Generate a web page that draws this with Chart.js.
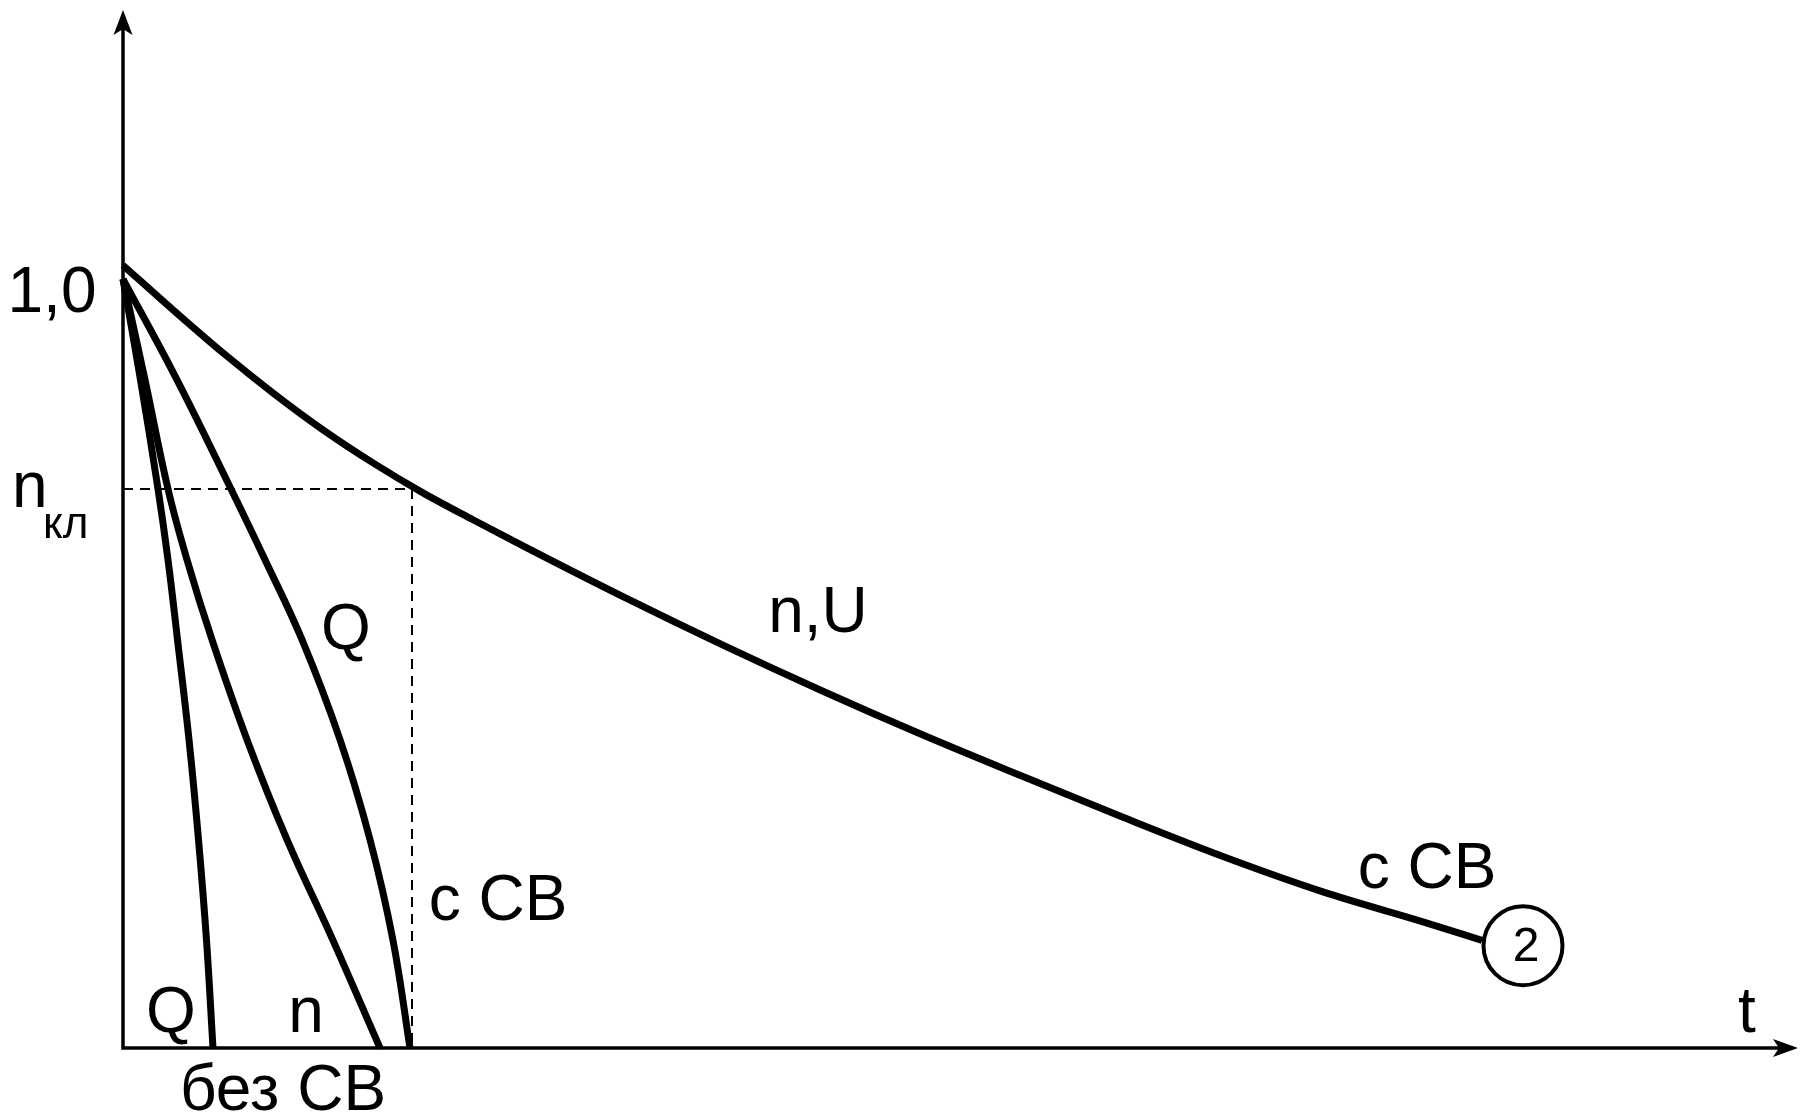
<!DOCTYPE html>
<html>
<head>
<meta charset="utf-8">
<script src="https://cdn.jsdelivr.net/npm/chart.js@4.4.1/dist/chart.umd.min.js"></script>
<style>
  html, body { margin: 0; padding: 0; background: #fff; }
  canvas { display: block; }
</style>
</head>
<body>
<canvas id="chart" width="1800" height="1115"></canvas>
<script>
// Relative quantities vs time (t in arbitrary units, values as fraction of 1,0)

// n,U with SV (slow decay, ends at marker 2)
const nuT = [0, 0.5, 1.0, 1.5, 2.0, 2.5, 3.0, 3.5, 4.0, 5, 6, 7, 8, 9, 10, 11, 12, 13, 13.59];
const nuV = [1.018, 0.960, 0.904, 0.852, 0.804, 0.761, 0.722, 0.687, 0.653, 0.587, 0.524, 0.464, 0.407, 0.353, 0.300, 0.249, 0.203, 0.164, 0.140];

// shared value rows for the three fast curves
const fastV = [1.0, 0.869, 0.727, 0.635, 0.531, 0.401, 0.271, 0.140, 0];

// Q without SV
const qNoT = [0, 0.175, 0.35, 0.45, 0.545, 0.66, 0.755, 0.835, 0.90];

// n without SV
const nNoT = [0, 0.22, 0.45, 0.64, 0.89, 1.24, 1.64, 2.10, 2.57];

// Q with SV
const qWithT = [0, 0.54, 1.08, 1.42, 1.79, 2.17, 2.47, 2.70, 2.87];

// critical level n_кл and the time it is reached
const nKl = 0.727;
const tKl = 2.89;

// circled marker "2" at the end of the n,U curve
const markerT = 14.0;
const markerV = 0.133;

// text labels (anchored in data units)
const labels = [
    { text: '1,0', t: -0.71, v: 0.957, font: 'big' },
    { text: 'Q', t: 2.23, v: 0.519, font: 'big' },
    { text: 'n,U', t: 6.95, v: 0.541, font: 'big' },
    { text: 'с СВ', t: 3.75, v: 0.166, font: 'big' },
    { text: 'с СВ', t: 13.04, v: 0.208, font: 'big' },
    { text: 'Q', t: 0.48, v: 0.021, font: 'big' },
    { text: 'n', t: 1.83, v: 0.021, font: 'big' },
    { text: 'без СВ', t: 1.60, v: -0.081, font: 'big' },
    { text: 't', t: 16.24, v: 0.021, font: 'big' }
];

const FONT = '"Liberation Sans", Arial, sans-serif';
const fonts = { big: '64px ' + FONT, sub: '44px ' + FONT, mark: '48px ' + FONT };

const toPts = (ts, vs) => ts.map((t, i) => ({ x: t, y: vs[i] }));

function curve(ts, vs, smooth) {
    return {
        data: toPts(ts, vs),
        showLine: true,
        borderColor: '#000',
        borderWidth: 7,
        pointRadius: 0,
        tension: 0.4,
        cubicInterpolationMode: smooth,
        clip: false
    };
}

const axesPlugin = {
    id: 'axes',
    beforeDatasetsDraw(chart) {
        const { ctx, chartArea } = chart;
        const x0 = chartArea.left, y0 = chartArea.bottom;
        ctx.save();
        ctx.strokeStyle = '#000';
        ctx.fillStyle = '#000';
        ctx.lineWidth = 3.5;
        ctx.beginPath();
        ctx.moveTo(x0, y0 + 1.75);
        ctx.lineTo(x0, chartArea.top + 15);
        ctx.moveTo(x0 - 1.75, y0);
        ctx.lineTo(chartArea.right - 15, y0);
        ctx.stroke();
        // arrow heads
        ctx.beginPath();
        ctx.moveTo(x0, chartArea.top);
        ctx.lineTo(x0 - 9.5, chartArea.top + 25);
        ctx.lineTo(x0, chartArea.top + 19);
        ctx.lineTo(x0 + 9.5, chartArea.top + 25);
        ctx.closePath();
        ctx.fill();
        ctx.beginPath();
        ctx.moveTo(chartArea.right, y0);
        ctx.lineTo(chartArea.right - 25, y0 - 9);
        ctx.lineTo(chartArea.right - 19, y0);
        ctx.lineTo(chartArea.right - 25, y0 + 9);
        ctx.closePath();
        ctx.fill();
        ctx.restore();
    }
};

const labelsPlugin = {
    id: 'labels',
    afterDraw(chart) {
        const { ctx, scales } = chart;
        const xs = scales.x, ys = scales.y;
        ctx.save();
        ctx.fillStyle = '#000';
        ctx.textAlign = 'center';
        ctx.textBaseline = 'alphabetic';
        labels.forEach(l => {
            ctx.font = fonts[l.font];
            ctx.fillText(l.text, xs.getPixelForValue(l.t), ys.getPixelForValue(l.v));
        });
        // n with subscript кл
        ctx.textAlign = 'left';
        ctx.font = fonts.big;
        ctx.fillText('n', xs.getPixelForValue(-1.11), ys.getPixelForValue(0.704));
        ctx.font = fonts.sub;
        ctx.fillText('кл', xs.getPixelForValue(-0.80), ys.getPixelForValue(0.663));
        // number in the marker
        ctx.textAlign = 'center';
        ctx.textBaseline = 'middle';
        ctx.font = fonts.mark;
        ctx.fillText('2', xs.getPixelForValue(markerT) + 3, ys.getPixelForValue(markerV) + 2);
        ctx.restore();
    }
};

new Chart(document.getElementById('chart'), {
    type: 'scatter',
    data: {
        datasets: [
            {
                data: [{ x: markerT, y: markerV }],
                pointRadius: 39.5,
                pointHoverRadius: 39.5,
                pointBackgroundColor: '#fff',
                pointBorderColor: '#000',
                pointBorderWidth: 4,
                clip: false
            },
            curve(nuT, nuV, 'monotone'),
            curve(qNoT, fastV, 'default'),
            curve(nNoT, fastV, 'default'),
            curve(qWithT, fastV, 'default'),
            {
                data: [{ x: 0, y: nKl }, { x: tKl, y: nKl }, { x: tKl, y: 0 }],
                showLine: true,
                borderColor: '#000',
                borderWidth: 2,
                borderDash: [10, 7],
                pointRadius: 0,
                tension: 0,
                clip: false
            }
        ]
    },
    options: {
        responsive: false,
        animation: false,
        events: [],
        layout: { autoPadding: false, padding: { left: 123, right: 2, top: 10, bottom: 67 } },
        scales: {
            x: { type: 'linear', min: 0, max: 16.75, display: false },
            y: { type: 'linear', min: 0, max: 1.35, display: false }
        },
        plugins: {
            legend: { display: false },
            tooltip: { enabled: false },
            title: { display: false }
        }
    },
    plugins: [axesPlugin, labelsPlugin]
});
</script>
</body>
</html>
